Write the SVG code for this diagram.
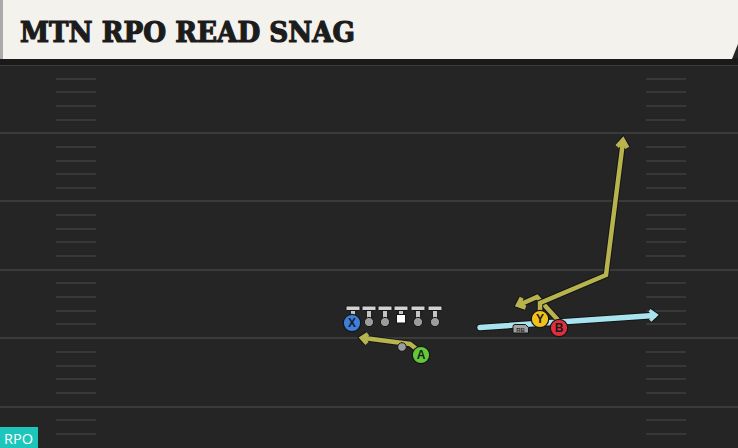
<svg xmlns="http://www.w3.org/2000/svg" width="738" height="448" viewBox="0 0 738 448">
<defs>
<style>
.yard{stroke:#3b3b3b;stroke-width:2}
.hash{stroke:#383838;stroke-width:2}
.out{fill:none;stroke:#141414;stroke-width:6.5;stroke-linejoin:miter;stroke-linecap:butt}
.olive{fill:none;stroke:#b7b44f;stroke-width:4.5;stroke-linejoin:miter;stroke-linecap:butt}
.blueo{fill:none;stroke:#141414;stroke-width:7.5;stroke-linecap:round}
.blue{fill:none;stroke:#a8e3f0;stroke-width:5.5;stroke-linecap:round}
.blueh{fill:none;stroke:#a8e3f0;stroke-width:3.5;stroke-linecap:butt}
.blueho{fill:none;stroke:#141414;stroke-width:5.5;stroke-linecap:butt}
.pl{stroke:#151515;stroke-width:1.2}
.lt{font-family:"Liberation Sans",Arial,sans-serif;font-weight:bold;font-size:12px;fill:#1a1a1a;text-anchor:middle}
.bar{fill:#d2d2d2;stroke:#151515;stroke-width:1}
.stem{fill:#c4c4c4;stroke:#151515;stroke-width:1}
.knob{fill:#9c9c9c;stroke:#151515;stroke-width:1}
</style>
<g id="ol">
<rect class="stem" x="-2.6" y="-13" width="5.2" height="11"/>
<rect class="bar" x="-7" y="-16" width="14" height="4.5" rx="1"/>
<circle class="knob" cx="0" cy="0" r="4.6"/>
</g>
</defs>
<rect x="0" y="0" width="738" height="448" fill="#252525"/>
<g id="field">
<line class="yard" x1="0" y1="65" x2="738" y2="65"/>
<line class="yard" x1="0" y1="133" x2="738" y2="133"/>
<line class="yard" x1="0" y1="201" x2="738" y2="201"/>
<line class="yard" x1="0" y1="270" x2="738" y2="270"/>
<line class="yard" x1="0" y1="338" x2="738" y2="338"/>
<line class="yard" x1="0" y1="407" x2="738" y2="407"/>
<g id="hashes-left">
<path class="hash" d="M56 79H96M56 92H96M56 106H96M56 120H96M56 147H96M56 161H96M56 174H96M56 188H96M56 215H96M56 229H96M56 242H96M56 256H96M56 283H96M56 297H96M56 311H96M56 324H96M56 352H96M56 366H96M56 379H96M56 393H96M56 420H96M56 434H96"/>
</g>
<g id="hashes-right">
<path class="hash" d="M646 79H686M646 92H686M646 106H686M646 120H686M646 147H686M646 161H686M646 174H686M646 188H686M646 215H686M646 229H686M646 242H686M646 256H686M646 283H686M646 297H686M646 311H686M646 324H686M646 352H686M646 366H686M646 379H686M646 393H686M646 420H686M646 434H686"/>
</g>
</g>
<g id="header">
<rect x="0" y="58" width="738" height="7" fill="#1a1a1a"/>
<polygon points="0,0 738,0 738,44 732,59 0,59" fill="#f4f2ec"/>
<rect x="0" y="0" width="3" height="59" fill="#aaaaaa"/>
<text x="20" y="42" font-family="'DejaVu Serif','Liberation Serif',serif" font-weight="bold" font-size="27" fill="#1c1c1c" stroke="#1c1c1c" stroke-width="1.2" textLength="335" lengthAdjust="spacingAndGlyphs">MTN RPO READ SNAG</text>
</g>
<g id="connectors">
<g id="rb-route">
<line class="blueo" x1="480" y1="327.5" x2="654" y2="315.5"/>
<polyline class="blueho" points="649.5,310.3 656,315 650.2,320.6"/>
<line class="blue" x1="480" y1="327.5" x2="654" y2="315.5"/>
<polyline class="blueh" points="649.5,310.3 656,315 650.2,320.6"/>
</g>
<g id="a-route">
<path class="out" d="M419 351L410 344L364 338M367 343.5L362 338L368 334"/>
<path class="olive" d="M419 351L410 344L364 338M367 343.5L362 338L368 334"/>
</g>
<g id="b-route">
<path class="out" d="M558 320L537 297L520 304.5M525.6 307.6L518 305L521.7 297.8"/>
<path class="olive" d="M558 320L537 297L520 304.5M525.6 307.6L518 305L521.7 297.8"/>
</g>
<g id="y-route">
<path class="out" d="M540 312L540 303L606 275L622.8 143M617.1 146.6L623 140L627.3 147.8"/>
<path class="olive" d="M540 312L540 303L606 275L622.8 143M617.1 146.6L623 140L627.3 147.8"/>
</g>
</g>
<g id="lt"><use href="#ol" x="353" y="322"/></g>
<g id="lg"><use href="#ol" x="369" y="322"/></g>
<g id="lg2"><use href="#ol" x="385" y="322"/></g>
<g id="center">
<rect class="stem" x="398.4" y="309" width="5.2" height="7"/>
<rect class="bar" x="394" y="306" width="14" height="4.5" rx="1"/>
<rect x="396.5" y="314.5" width="9" height="8.5" fill="#ffffff" stroke="#151515" stroke-width="1"/>
</g>
<g id="rg"><use href="#ol" x="418" y="322"/></g>
<g id="rt"><use href="#ol" x="435" y="322"/></g>
<g id="qb"><circle class="knob" cx="402" cy="347" r="4.3"/></g>
<g id="X"><circle class="pl" cx="352" cy="323" r="8.7" fill="#3d7fdc"/><text class="lt" x="352" y="327.3">X</text></g>
<g id="A"><circle class="pl" cx="421" cy="355" r="8.7" fill="#62c73a"/><text class="lt" x="421" y="359.3">A</text></g>
<g id="RB">
<path d="M515 324.5H525.5L528.5 327.5V333H513V326.5Q513 324.5 515 324.5Z" fill="#a2a2a2" stroke="#151515" stroke-width="1"/>
<text x="520.5" y="331.5" font-family="'Liberation Sans',Arial,sans-serif" font-weight="bold" font-size="6" fill="#2a2a2a" text-anchor="middle">RB</text>
</g>
<g id="Y"><circle class="pl" cx="540" cy="319" r="8.7" fill="#f2c11c"/><text class="lt" x="540" y="323.3">Y</text></g>
<g id="B"><circle class="pl" cx="559" cy="328" r="8.7" fill="#df2f3e"/><text class="lt" x="559" y="332.3">B</text></g>
<g id="tag">
<rect x="0" y="427" width="38" height="21" fill="#1dc6bb"/>
<text x="4" y="444" font-family="'Open Sans','Liberation Sans',sans-serif" font-size="14.5" fill="#ffffff">RPO</text>
</g>
</svg>
